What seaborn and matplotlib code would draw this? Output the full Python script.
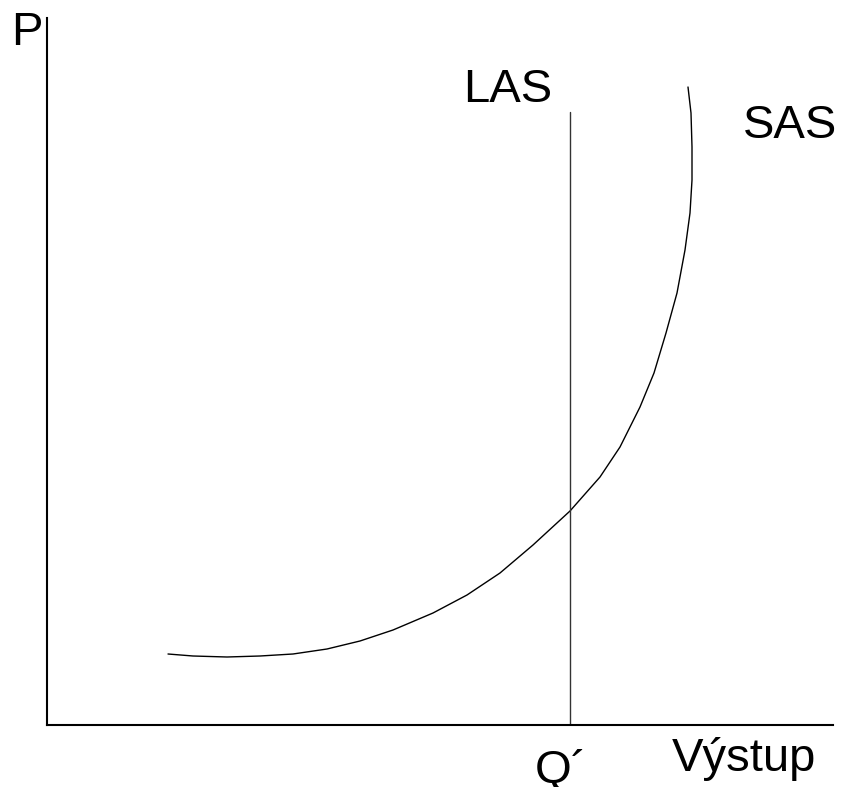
import matplotlib
matplotlib.use("Agg")
import matplotlib.pyplot as plt
import seaborn as sns
import pandas as pd

# SAS curve (output, price)
sas_x = [121, 146, 180, 213, 246, 280, 313, 346, 386, 420, 453, 486, 523,
         553, 573, 593, 607, 619, 630, 638, 643, 645, 645, 644, 641]
sas_y = [71, 69, 68, 69, 71, 76, 84, 95, 112, 130, 152, 180, 214,
         248, 278, 318, 352, 392, 432, 475, 512, 545, 578, 612, 638]

# LAS vertical line at Q'
las_x = [523, 523]
las_y = [0, 613]

labels = ["P", "LAS", "SAS", "Výstup", "Q´"]

sns.set_theme(style="white")
plt.rcParams['font.family'] = ['Liberation Sans', 'DejaVu Sans']
plt.rcParams['text.color'] = 'black'

fig = plt.figure(figsize=(8.44, 7.87), dpi=100)
ax = fig.add_axes([47 / 844, 62 / 787, 786 / 844, 707 / 787])

sas = pd.DataFrame({'x': sas_x, 'y': sas_y})
las = pd.DataFrame({'x': las_x, 'y': las_y})
sns.lineplot(data=sas, x='x', y='y', sort=False, estimator=None, color='black', linewidth=1.0, ax=ax)
sns.lineplot(data=las, x='x', y='y', sort=False, estimator=None, color='#333333', linewidth=1.0, ax=ax)

ax.set_xlim(0, 786)
ax.set_ylim(0, 707)
ax.set_xticks([])
ax.set_yticks([])
ax.set_xlabel('')
ax.set_ylabel('')
for side in ['top', 'right']:
    ax.spines[side].set_visible(False)
for side in ['left', 'bottom']:
    ax.spines[side].set_color('black')
    ax.spines[side].set_linewidth(1.5)

fs = 34
ax.text(-36, 680, labels[0], fontsize=fs, color='black', ha='left', va='baseline', clip_on=False)
ax.text(461, 623, labels[1], fontsize=fs, color='black', ha='center', va='baseline', clip_on=False)
ax.text(696, 587, labels[2], fontsize=fs, color='black', ha='left', va='baseline', clip_on=False)
ax.text(625, -46, labels[3], fontsize=fs, color='black', ha='left', va='baseline', clip_on=False)
ax.text(488, -58, labels[4], fontsize=fs, color='black', ha='left', va='baseline', clip_on=False)

fig.savefig('out.png', dpi=100)
